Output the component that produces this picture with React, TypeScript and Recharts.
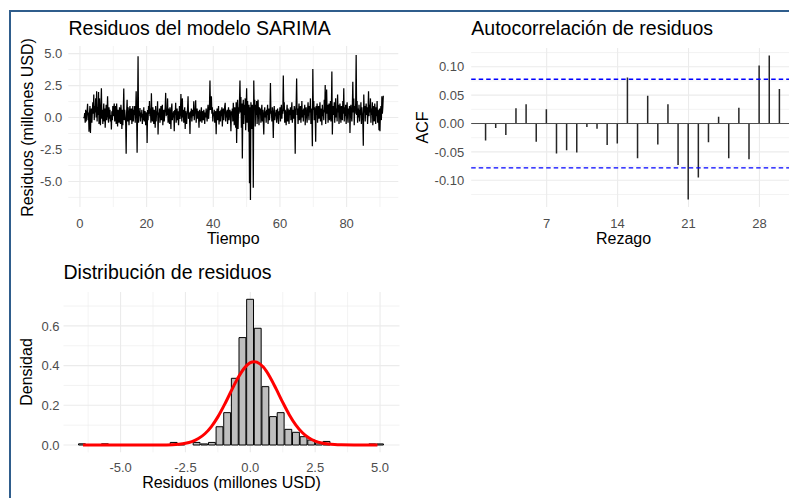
import React from 'react';
import {
  LineChart,
  Line,
  XAxis,
  YAxis,
  CartesianGrid,
  ComposedChart,
  BarChart,
  Bar,
  ReferenceLine,
} from 'recharts';

const FONT = "'Liberation Sans', Arial, Helvetica, sans-serif";
const W = 789;
const H = 498;
const AXW = 60;
const AXH = 30;

// ---------- Panel 1: residual series (weekly frequency, start t = 1) ----------
const tsStart = 1;
const tsFreq = 7;
const residuals: number[] = [
  0.0, 0.0, 0.02, 0.35, -0.4, 0.6, -0.3,
  0.2, 0.5, 1.07, -0.2, 0.4, -1.1, 0.3,
  0.9, -1.2, 0.1, 0.7, -0.4, 0.5, 1.2,
  0.3, 1.8, -0.2, 0.9, 0.4, 1.5, 0.0,
  2.05, -0.3, 0.8, 0.2, 2.0, -0.5, 1.5,
  0.2, -0.6, 0.9, 2.3, -0.1, 0.6, -0.5,
  0.4, 1.1, -0.3, 0.7, -0.8, 0.3, 1.0,
  -0.2, 0.5, 1.67, 0.1, -0.4, 0.8, -0.1,
  0.6, -0.3, 0.2, -0.94, 0.5, -0.2, 0.9,
  0.1, 0.7, 1.1, -0.3, 0.4, 0.9, -0.5,
  1.1, 0.3, -0.7, 0.6, 0.0, -0.4, 0.8,
  0.2, -0.5, 1.0, 0.4, -0.9, 0.6, -0.6,
  0.5, 2.27, -0.2, 0.6, 0.1, -0.4, -2.84,
  0.4, 1.4, -0.3, 0.8, 0.2, -0.6, 0.5,
  0.9, -0.2, 0.3, 0.7, -0.5, 0.1, 0.9,
  -0.3, 0.6, 0.2, 0.9, -0.4, 0.5, 2.05,
  0.3, -2.76, 0.6, 4.8, -0.4, 0.5, 0.1,
  0.75, -0.3, 0.4, 0.0, 0.6, -0.5, 0.3,
  -0.2, 0.8, -0.3, 0.1, 0.5, -0.6, 0.2,
  0.4, -2.0, 0.6, -0.2, 0.9, 0.3, 1.3,
  0.1, 0.7, -0.4, 1.9, 0.2, -0.3, 0.8,
  0.3, -0.5, 0.6, 0.1, -0.8, 0.9, -0.3,
  0.5, 0.2, 1.28, -1.33, 0.4, 0.0, 0.7,
  -0.4, 0.3, 0.9, -0.2, 0.5, 1.0, -0.6,
  0.2, 0.6, -0.3, 0.4, 0.8, 1.93, 0.1,
  0.5, 0.2, 1.5, -0.4, 0.7, 0.3, -0.5,
  0.8, 0.1, -0.9, 0.6, 1.1, -0.2, 0.4,
  0.0, 0.5, -1.07, 0.6, 0.2, 1.15, -0.4,
  0.3, 0.7, -0.2, 0.5, -0.6, 0.2, 0.9,
  -0.1, 0.4, 1.85, 0.3, -0.3, 1.5, 0.0,
  0.6, -0.4, 0.2, 0.8, -0.9, 0.5, 0.1,
  -0.5, 0.3, 0.7, 1.67, -0.1, 0.4, 0.2,
  -1.28, 0.5, 0.0, 0.7, -0.3, 0.3, 0.6,
  0.1, 1.28, -0.2, 0.4, 0.6, 1.35, -0.4,
  0.3, 0.7, -0.1, 0.5, 0.1, -0.8, 0.6,
  0.2, -0.3, 0.4, 0.8, -0.4, 0.1, 0.5,
  -0.2, 0.6, 0.3, -0.5, 0.4, 0.0, 0.7,
  0.2, -0.3, 0.5, 1.0, -0.1, 0.4, 0.9,
  2.9, 0.6, 1.0, 1.67, 0.3, 0.8, -0.3,
  0.4, 0.1, 0.6, -0.4, 0.0, 0.5, -1.3,
  0.3, 0.7, -0.2, 0.4, 0.9, -0.55, 0.2,
  0.5, -0.3, 0.6, 0.1, 0.8, -0.7, 0.3,
  0.7, -0.2, 0.4, 0.9, 1.15, -0.3, 0.5,
  0.0, 0.6, -0.5, 0.3, 0.8, -0.2, 0.4,
  0.6, 0.1, -1.07, 0.5, 0.2, 0.7, -0.3,
  1.15, 0.3, -0.6, 0.8, 0.5, -0.8, 1.2,
  -2.0, 0.6, 1.4, -0.9, 0.8, 0.3, 1.3,
  2.9, 0.4, 1.6, -0.8, 1.1, -3.2, 0.6,
  1.4, -0.5, 1.0, 0.2, 1.5, -1.0, 0.7,
  2.3, -0.4, 1.3, 0.5, -1.1, 1.0, -5.15,
  0.8, -6.46, 1.2, 0.4, -0.9, 1.0, 0.3,
  -5.5, 2.9, 0.6, 1.4, -0.7, 1.0, 0.2,
  1.3, -0.5, 0.9, 1.4, 0.1, -0.6, 0.8,
  0.25, 0.7, -0.4, 0.5, 1.0, -0.3, 0.6,
  -0.2, -1.33, 0.4, 0.8, 0.0, 0.5, -0.4,
  0.6, 0.2, 1.0, -0.5, 0.3, 0.7, -0.2,
  0.4, 2.7, 0.3, 0.5, -0.3, 0.8, 0.1,
  -1.6, 0.5, 0.9, -0.2, 0.4, 0.1, 0.6,
  -0.4, 0.3, 0.7, 0.0, -0.5, 0.5, 0.2,
  0.8, -0.3, 0.4, 1.0, -0.1, 0.6, 0.3,
  3.3, 0.5, 1.2, -0.4, 0.6, 0.2, -0.6,
  0.4, 1.0, -0.3, 0.7, 0.1, -0.5, 0.6,
  0.2, 0.8, -0.2, 0.5, 1.2, -0.4, 0.3,
  0.6, -0.1, 0.9, 0.3, -2.84, 0.6, 1.0,
  3.05, 0.2, 0.7, -0.5, 0.4, 1.1, -0.2,
  0.5, 0.9, -0.4, 0.3, 1.3, 0.0, 0.6,
  -0.3, 0.7, 0.2, 1.0, -0.6, 0.4, 0.8,
  0.1, -0.4, 0.6, 1.2, 0.3, -0.2, 0.9,
  0.4, 1.5, -0.5, 0.7, 0.2, -2.24, 3.8,
  0.6, 1.3, -0.2, 0.8, 0.4, -1.9, 0.9,
  0.2, 1.1, -0.4, 0.6, 0.9, -0.1, 0.5,
  1.2, -0.3, 0.7, 0.3, -0.6, 1.0, 0.1,
  0.6, -0.2, 1.4, 0.4, 2.55, -0.5, 0.8,
  2.2, 0.3, 1.0, -0.4, 0.6, 1.1, -0.2,
  0.5, 1.3, -0.3, 0.7, 3.6, -1.33, 0.6,
  0.9, 0.2, 1.2, -0.4, 0.5, 1.5, 0.0,
  0.7, -0.3, 1.8, 0.4, 1.0, -0.5, 0.3,
  1.1, 0.2, -0.4, 0.9, 0.5, -0.2, 1.3,
  0.3, 2.3, -0.3, 0.8, 0.1, 1.0, -0.5,
  0.6, 1.2, 0.0, -0.4, 0.7, 0.3, 0.9,
  -1.2, 0.5, 1.0, 0.2, -0.3, 0.8, 2.8,
  0.4, 1.5, -0.6, 0.9, 0.3, 1.1, 4.9,
  0.2, 1.3, -0.4, 0.7, 0.0, 1.0, -0.3,
  0.6, 0.2, 1.2, -0.5, 0.8, 0.3, -0.2,
  -2.2, 1.8, 0.4, 0.9, -0.3, 0.6, 1.1,
  0.2, 0.8, -0.5, 0.5, 2.05, 0.1, 1.0,
  0.4, 1.5, -0.4, 0.7, 0.2, 1.2, -0.6,
  0.9, 0.3, -0.3, 1.1, 0.5, -0.5, 0.8,
  0.1, 1.3, -0.4, 0.6, 0.2, -1.0, 0.7,
  -1.07, 0.4, 0.9, -0.2, 1.67, 0.3, 0.8,
  1.7,
];
const tsXTicks = [0, 20, 40, 60, 80];
const tsXMinor = [10, 30, 50, 70, 90];
const tsYTicks = [-5, -2.5, 0, 2.5, 5];
const tsYMinor = [-6.25, -3.75, -1.25, 1.25, 3.75];
const tsXDomain: [number, number] = [-3.5, 95.5];
const tsYDomain: [number, number] = [-7.0, 5.6];

// ---------- Panel 2: ACF of residuals ----------
const acfLags = [
  1, 2, 3, 4, 5, 6, 7, 8, 9, 10, 11, 12, 13, 14, 15,
  16, 17, 18, 19, 20, 21, 22, 23, 24, 25, 26, 27, 28, 29, 30,
];
const acfValues = [
  -0.030, -0.008, -0.020, 0.027, 0.034, -0.032, 0.025, -0.053, -0.047, -0.051,
  -0.006, -0.009, -0.038, -0.035, 0.081, -0.061, 0.049, -0.037, 0.034, -0.073,
  -0.134, -0.095, -0.033, 0.012, -0.061, 0.028, -0.063, 0.102, 0.120, 0.061,
];
const acfBound = 0.078;
const acfXTicks = [7, 14, 21, 28];
const acfYTicks = [-0.1, -0.05, 0, 0.05, 0.1];
const acfYMinor = [-0.125, -0.075, -0.025, 0.025, 0.075, 0.125];
const acfXDomain: [number, number] = [-0.45, 31.45];
const acfYDomain: [number, number] = [-0.147, 0.133];

// ---------- Panel 3: histogram of residuals + density ----------
const histStart = -6.62;
const histWidth = 0.2945;
const histDensity = [
  0.006, 0, 0, 0.006, 0, 0, 0, 0, 0, 0,
  0, 0, 0.013, 0.006, 0, 0.013, 0.0055, 0.013, 0.092, 0.163,
  0.336, 0.541, 0.734, 0.588, 0.294, 0.143, 0.163, 0.079, 0.064, 0.042,
  0.025, 0.011, 0.018, 0, 0, 0, 0, 0, 0.0055, 0.0055,
];
const densX = [
  -6.45, -5, -4, -3.5, -3, -2.75, -2.5, -2.25, -2, -1.75, -1.5, -1.25,
  -1, -0.75, -0.5, -0.25, 0, 0.15, 0.25, 0.5, 0.75, 1, 1.25, 1.5,
  1.75, 2, 2.25, 2.5, 2.75, 3, 3.25, 3.5, 4, 4.9,
];
const densY = [
  0, 0, 0.0001, 0.0003, 0.0017, 0.004, 0.0086, 0.0173, 0.0325, 0.0568, 0.093, 0.1418,
  0.2019, 0.2681, 0.3324, 0.3844, 0.4148, 0.42, 0.4177, 0.3925, 0.3441, 0.2814, 0.2148, 0.153,
  0.1017, 0.063, 0.0365, 0.0197, 0.0099, 0.0047, 0.002, 0.0008, 0.0001, 0,
];
const histXTicks = [-5, -2.5, 0, 2.5, 5];
const histXMinor = [-6.25, -3.75, -1.25, 1.25, 3.75];
const histYTicks = [0, 0.2, 0.4, 0.6];
const histYMinor = [0.1, 0.3, 0.5, 0.7];
const histXDomain: [number, number] = [-7.2, 5.75];
const histYDomain: [number, number] = [-0.0367, 0.7707];

// ---------- data tables ----------
const tsData = residuals.map((r, i) => ({ t: tsStart + i / tsFreq, r }));
const acfData = acfLags.map((lag, i) => ({ lag, acf: acfValues[i] }));
const histData = histDensity.map((d, i) => ({ x: histStart + (i + 0.5) * histWidth, d }));
const densData = densX.map((x, i) => ({ x, y: densY[i] }));

// ---------- layout ----------
type Geom = { left: number; right: number; top: number; bottom: number; width: number };
const gTS: Geom = { left: 68.3, right: 398.3, top: 46, bottom: 207, width: 789 };
const gACF: Geom = { left: 471.2, right: 794.4, top: 48, bottom: 207, width: 800 };
const gHist: Geom = { left: 63.5, right: 399.5, top: 292, bottom: 452.3, width: 789 };

const marginsFor = (g: Geom) => ({
  left: g.left - AXW,
  right: g.width - g.right,
  top: g.top,
  bottom: H - g.bottom - AXH,
});

const tickStyle = { fill: '#4D4D4D', fontSize: 13, fontFamily: FONT };
const MAJOR = '#EBEBEB';
const abs: React.CSSProperties = { position: 'absolute', left: 0, top: 0 };

function TSPanel() {
  return (
    <div style={abs}>
      <LineChart width={gTS.width} height={H} margin={marginsFor(gTS)} data={tsData}>
        <CartesianGrid stroke={MAJOR} strokeWidth={0.6} verticalValues={tsXMinor} horizontalValues={tsYMinor} />
        <CartesianGrid stroke={MAJOR} strokeWidth={1.1} verticalValues={tsXTicks} horizontalValues={tsYTicks} />
        <XAxis
          dataKey="t"
          type="number"
          domain={tsXDomain}
          ticks={tsXTicks}
          allowDataOverflow
          interval={0}
          axisLine={false}
          tickLine={false}
          tickSize={0}
          tickMargin={11.3}
          height={AXH}
          tick={tickStyle}
        />
        <YAxis
          type="number"
          domain={tsYDomain}
          ticks={tsYTicks}
          allowDataOverflow
          interval={0}
          axisLine={false}
          tickLine={false}
          tickSize={0}
          tickMargin={6}
          width={AXW}
          tick={tickStyle}
          tickFormatter={(v: number) => v.toFixed(1)}
        />
        <Line
          dataKey="r"
          type="linear"
          stroke="#000000"
          strokeWidth={1.25}
          dot={false}
          activeDot={false}
          isAnimationActive={false}
        />
      </LineChart>
    </div>
  );
}

function ACFPanel() {
  return (
    <div style={abs}>
      <ComposedChart width={gACF.width} height={H} margin={marginsFor(gACF)} data={acfData}>
        <CartesianGrid stroke={MAJOR} strokeWidth={0.6} vertical={false} horizontalValues={acfYMinor} />
        <CartesianGrid stroke={MAJOR} strokeWidth={1.1} verticalValues={acfXTicks} horizontalValues={acfYTicks} />
        <XAxis
          dataKey="lag"
          type="number"
          domain={acfXDomain}
          ticks={acfXTicks}
          allowDataOverflow
          interval={0}
          axisLine={false}
          tickLine={false}
          tickSize={0}
          tickMargin={11.3}
          height={AXH}
          tick={tickStyle}
        />
        <YAxis
          type="number"
          domain={acfYDomain}
          ticks={acfYTicks}
          allowDataOverflow
          interval={0}
          axisLine={false}
          tickLine={false}
          tickSize={0}
          tickMargin={7}
          width={AXW}
          tick={tickStyle}
          tickFormatter={(v: number) => v.toFixed(2)}
        />
        <ReferenceLine y={0} stroke="#4D4D4D" strokeWidth={1} />
        <Bar dataKey="acf" fill="#262626" barSize={1.5} isAnimationActive={false} />
        <ReferenceLine y={acfBound} stroke="#0000FF" strokeWidth={1.3} strokeDasharray="4.5 3" />
        <ReferenceLine y={-acfBound} stroke="#0000FF" strokeWidth={1.3} strokeDasharray="4.5 3" />
      </ComposedChart>
    </div>
  );
}

function HistAxes({ showTicks }: { showTicks: boolean }) {
  return null;
}

function HistPanel() {
  const pxPerUnit = (gHist.right - gHist.left) / (histXDomain[1] - histXDomain[0]);
  const xAxisProps = {
    dataKey: 'x',
    type: 'number' as const,
    domain: histXDomain,
    ticks: histXTicks,
    allowDataOverflow: true,
    interval: 0 as const,
    axisLine: false,
    tickLine: false,
    tickSize: 0,
    tickMargin: 10.4,
    height: AXH,
    tickFormatter: (v: number) => v.toFixed(1),
  };
  const yAxisProps = {
    type: 'number' as const,
    domain: histYDomain,
    ticks: histYTicks,
    allowDataOverflow: true,
    interval: 0 as const,
    axisLine: false,
    tickLine: false,
    tickSize: 0,
    tickMargin: 4,
    width: AXW,
    tickFormatter: (v: number) => v.toFixed(1),
  };
  return (
    <>
      <div style={abs}>
        <BarChart width={gHist.width} height={H} margin={marginsFor(gHist)} data={histData} barCategoryGap={0}>
          <CartesianGrid stroke={MAJOR} strokeWidth={0.6} verticalValues={histXMinor} horizontalValues={histYMinor} />
          <CartesianGrid stroke={MAJOR} strokeWidth={1.1} verticalValues={histXTicks} horizontalValues={histYTicks} />
          <XAxis {...xAxisProps} tick={tickStyle} />
          <YAxis {...yAxisProps} tick={tickStyle} />
          <Bar
            dataKey="d"
            fill="#BEBEBE"
            stroke="#000000"
            strokeWidth={1}
            barSize={histWidth * pxPerUnit}
            isAnimationActive={false}
          />
        </BarChart>
      </div>
      <div style={abs}>
        <LineChart width={gHist.width} height={H} margin={marginsFor(gHist)} data={densData}>
          <XAxis {...xAxisProps} tick={false} />
          <YAxis {...yAxisProps} tick={false} />
          <Line
            dataKey="y"
            type="monotone"
            stroke="#FF0000"
            strokeWidth={3}
            dot={false}
            activeDot={false}
            isAnimationActive={false}
          />
        </LineChart>
      </div>
    </>
  );
}

function Labels() {
  const t = { fontFamily: FONT, fill: '#000000' };
  return (
    <svg width={W} height={H} style={{ ...abs, pointerEvents: 'none' }}>
      <text x={68.5} y={35} fontSize={19.5} {...t}>Residuos del modelo SARIMA</text>
      <text x={471.3} y={35} fontSize={19.5} {...t}>Autocorrelación de residuos</text>
      <text x={63.5} y={279} fontSize={19.5} {...t}>Distribución de residuos</text>
      <text x={233.3} y={244.3} fontSize={16} textAnchor="middle" {...t}>Tiempo</text>
      <text x={623.5} y={244.3} fontSize={16} textAnchor="middle" {...t}>Rezago</text>
      <text x={231.5} y={487.7} fontSize={16} textAnchor="middle" {...t}>Residuos (millones USD)</text>
      <text transform="translate(32.5,127.5) rotate(-90)" fontSize={16} textAnchor="middle" {...t}>
        Residuos (millones USD)
      </text>
      <text transform="translate(428.3,127.5) rotate(-90)" fontSize={16} textAnchor="middle" {...t}>
        ACF
      </text>
      <text transform="translate(32.3,372) rotate(-90)" fontSize={16} textAnchor="middle" {...t}>
        Densidad
      </text>
    </svg>
  );
}

export default function App() {
  return (
    <div
      style={{
        position: 'absolute',
        left: 0,
        top: 0,
        width: W,
        height: H,
        overflow: 'hidden',
        background: '#FFFFFF',
        fontFamily: FONT,
      }}
    >
      <TSPanel />
      <ACFPanel />
      <HistPanel />
      <Labels />
      <div
        style={{
          position: 'absolute',
          left: 9,
          top: 10,
          width: 820,
          height: 520,
          borderTop: '2px solid #2F5D8C',
          borderLeft: '2px solid #2F5D8C',
          pointerEvents: 'none',
        }}
      />
    </div>
  );
}
